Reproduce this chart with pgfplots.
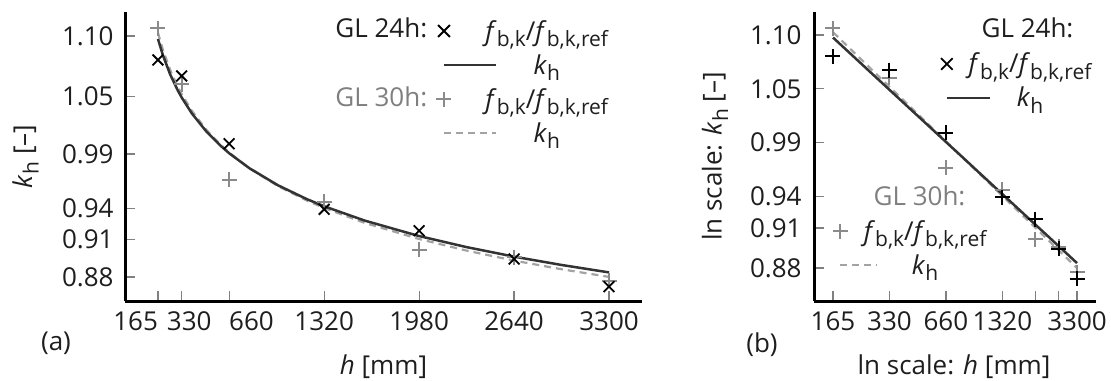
\documentclass[border=0pt]{standalone}
\usepackage{fontspec}
\setmainfont{Open Sans}
\usepackage{pgfplots}
\usepackage{pgfplotstable}
\pgfplotsset{compat=1.18}

\definecolor{lineD}{HTML}{333333}
\definecolor{gmark}{HTML}{8A8A8A}
\definecolor{gdash}{HTML}{A3A3A3}
\definecolor{gtext}{HTML}{7F7F7F}
\definecolor{tickc}{HTML}{808080}
\definecolor{labc}{HTML}{1E1E1E}

\newcommand{\sub}[1]{\raisebox{-0.25em}{\fontsize{10.5}{10.5}\selectfont #1}}
\newcommand{\fbk}{\textit{f}\sub{b,k}/\textit{f}\sub{b,k,ref}}
\newcommand{\kh}{\textit{k}\sub{h}}
\newcommand{\legimgw}{26pt}

% measured f_b,k / f_b,k,ref, GL 24h
\pgfplotstableread{
h k
165 1.0781
330 1.0635
660 1.0016
1320 0.9417
1980 0.9222
2640 0.8963
3300 0.8711
}\mtf
% measured f_b,k / f_b,k,ref, GL 30h
\pgfplotstableread{
h k
165 1.1070
330 1.0560
660 0.9685
1320 0.9487
1980 0.9046
2640 0.8979
3300 0.8763
}\mts
% k_h, GL 24h
\pgfplotstableread{
h k
165 1.0973
200 1.0822
250 1.0649
300 1.0510
330 1.0438
400 1.0294
500 1.0130
600 0.9998
660 0.9929
800 0.9793
1000 0.9636
1200 0.9510
1320 0.9445
1600 0.9315
1980 0.9173
2310 0.9072
2640 0.8985
2970 0.8909
3300 0.8841
}\lineA
% k_h, GL 30h
\pgfplotstableread{
h k
165 1.1030
200 1.0871
250 1.0690
300 1.0544
330 1.0468
400 1.0318
500 1.0145
600 1.0007
660 0.9935
800 0.9792
1000 0.9629
1200 0.9497
1320 0.9429
1600 0.9294
1980 0.9146
2310 0.9040
2640 0.8949
2970 0.8870
3300 0.8800
}\lineB

\pgfplotsset{
  base/.style={
    scale only axis, anchor=south west,
    axis x line*=bottom, axis y line*=left,
    axis line style={-, line width=1.5pt, black},
    tick style={draw=tickc, line width=0.6pt},
    tick align=inside, major tick length=5pt,
    minor xtick={}, minor ytick={},
    font=\fontsize{13}{15.6}\selectfont,
    tick label style={text=labc},
    label style={text=labc},
    xticklabel style={yshift=-1.6pt},
    clip=false,
    xtick={165,330,660,1320,1980,2640,3300},
    ytick={1.1,1.0447,0.9922,0.9423,0.9144,0.88},
    yticklabels={1.10,1.05,0.99,0.94,0.91,0.88},
    legend cell align=center,
    legend image code/.code={\draw[##1] (0pt,0pt) -- (\legimgw,0pt);},
  },
  mimg/.style={legend image code/.code={\path[draw=none,fill=none] (0pt,0pt) -- (\legimgw,0pt); \draw[##1] plot coordinates {(0pt,0pt)};}},
  leg/.style={draw=none, fill=none, inner sep=0pt, outer sep=0pt, row sep=4pt,
    nodes={inner sep=0pt, text width=62pt, align=center, text height=11pt, text depth=2pt, text=labc}},
}

\begin{document}
\begin{tikzpicture}[x=1pt,y=1pt,font=\fontsize{13}{15.6}\selectfont]
\path[use as bounding box] (0,0) rectangle (555.5,190);

% ---------------- panel (a)
\renewcommand{\legimgw}{26pt}
\begin{axis}[base,
  at={(62.5pt,39.5pt)}, width=258.5pt, height=144.5pt,
  xmin=-64, xmax=3529, ymin=0.8580, ymax=1.1219,
  xticklabels={{\makebox[0pt][r]{165}},{\hspace*{7.5pt}330},{\makebox[0pt][l]{660}},1320,1980,2640,3300},
  yticklabel style={xshift=-2.2pt},
  xlabel={\textit{h} [mm]},
  ylabel={\kh{} [–]},
  xlabel style={at={(axis description cs:0.5,-0.2526)}, anchor=base},
  ylabel style={at={(axis description cs:-0.1925,0.5)}, anchor=center},
  legend columns=1,
  legend style={leg, at={(axis description cs:0.6025,0.9792)}, anchor=north west, column sep=-6.25pt},
]
\addplot[forget plot, gdash, line width=1.1pt, dash pattern=on 3.5pt off 2.5pt] table[x=h,y=k]{\lineB};
\addplot[forget plot, lineD, line width=1.25pt] table[x=h,y=k]{\lineA};
\addplot[forget plot, only marks, mark=+, mark size=3.75pt, gmark, mark options={line width=1pt}] table[x=h,y=k]{\mts};
\addplot[forget plot, only marks, mark=x, mark size=3.8pt, black, mark options={line width=0.9pt}] table[x=h,y=k]{\mtf};
\addlegendimage{mimg, only marks, mark=x, mark size=4.2pt, black, mark options={line width=0.9pt}}
\addlegendentry{\fbk}
\addlegendimage{lineD, line width=1.25pt}
\addlegendentry{\kh}
\addlegendimage{mimg, only marks, mark=+, mark size=3.75pt, gmark, mark options={line width=1pt}}
\addlegendentry{\fbk}
\addlegendimage{gdash, line width=1.1pt, dash pattern=on 3.5pt off 2.5pt}
\addlegendentry{\kh}
\end{axis}

% ---------------- panel (b)
\renewcommand{\legimgw}{21.5pt}
\begin{axis}[base,
  at={(407pt,39.5pt)}, width=141pt, height=144.5pt,
  xmode=log, ymode=log,
  xmin=130.7, xmax=4168, ymin=0.8526, ymax=1.1245,
  xticklabels={165,330,660,1320,,,3300},
  yticklabel style={xshift=-2.7pt},
  xlabel={ln scale: \textit{h} [mm]},
  ylabel={ln scale: \kh{} [–]},
  xlabel style={at={(axis description cs:0.4965,-0.2526)}, anchor=base},
  ylabel style={at={(axis description cs:-0.351,0.5)}, anchor=center},
  legend columns=1,
  legend style={leg, at={(axis description cs:0.4504,0.8651)}, anchor=north west, column sep=-11.5pt},
]
\addplot[forget plot, gdash, line width=1.1pt, dash pattern=on 3.5pt off 2.5pt] table[x=h,y=k]{\lineB};
\addplot[forget plot, lineD, line width=1.25pt] table[x=h,y=k]{\lineA};
\addplot[forget plot, only marks, mark=+, mark size=3.75pt, gmark, mark options={line width=1pt}] table[x=h,y=k]{\mts};
\addplot[forget plot, only marks, mark=+, mark size=3.75pt, black, mark options={line width=1pt}] table[x=h,y=k]{\mtf};
\addlegendimage{mimg, only marks, mark=x, mark size=4.1pt, black, mark options={line width=0.9pt}}
\addlegendentry{\fbk}
\addlegendimage{lineD, line width=1.25pt}
\addlegendentry{\kh}
\end{axis}

% second legend of panel (b)
\renewcommand{\legimgw}{18.5pt}
\begin{axis}[base, hide axis,
  at={(407pt,39.5pt)}, width=141pt, height=144.5pt,
  xmode=log, ymode=log,
  xmin=130.7, xmax=4168, ymin=0.8526, ymax=1.1245,
  legend columns=1,
  legend style={leg, at={(axis description cs:0.0656,0.2872)}, anchor=north west, column sep=-7.5pt},
]
\addlegendimage{mimg, only marks, mark=+, mark size=3.75pt, gmark, mark options={line width=1pt}}
\addlegendentry{\fbk}
\addlegendimage{gdash, line width=1.1pt, dash pattern=on 3.5pt off 2.5pt}
\addlegendentry{\kh}
\end{axis}

\node[anchor=base west, text=labc, inner sep=0pt] at (167.5,171) {GL 24h:};
\node[anchor=base west, text=gtext, inner sep=0pt] at (167.5,136.5) {GL 30h:};
\node[anchor=base, text=labc, inner sep=0pt] at (513.75,171) {GL 24h:};
\node[anchor=base, text=gtext, inner sep=0pt] at (459.75,87) {GL 30h:};
\node[text=labc] at (28,18.5) {(a)};
\node[text=labc] at (381,17.5) {(b)};
\end{tikzpicture}
\end{document}
